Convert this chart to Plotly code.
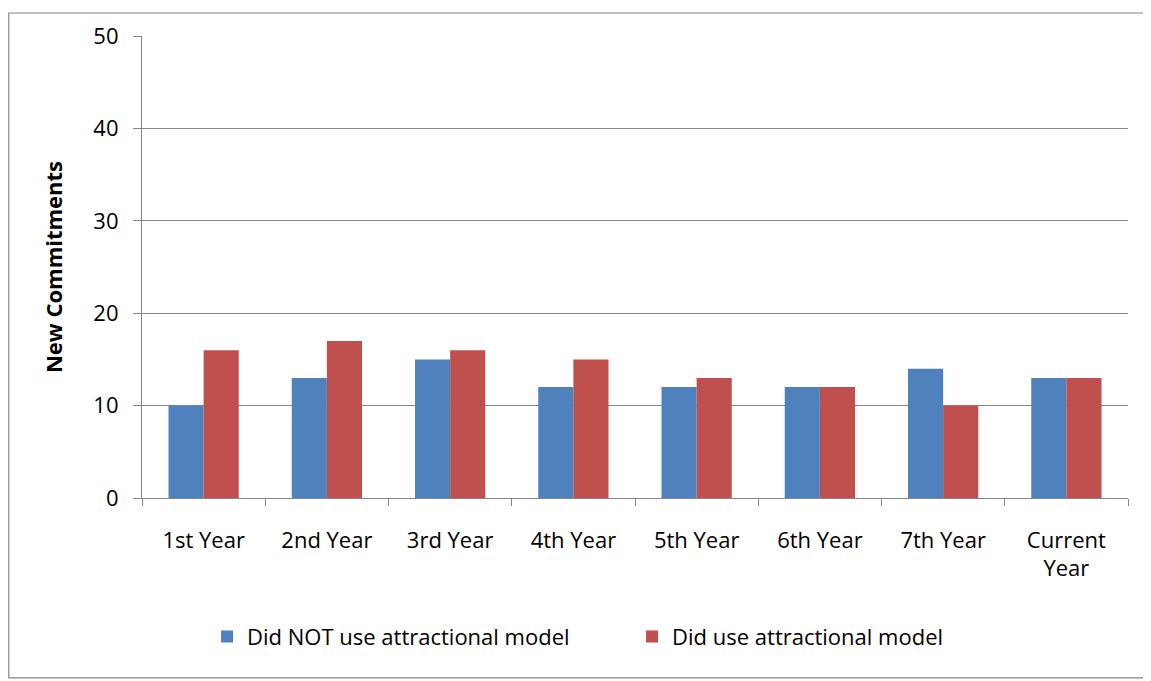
import plotly.graph_objects as go

# categories and values
years = ['1st Year', '2nd Year', '3rd Year', '4th Year', '5th Year', '6th Year', '7th Year', 'Current<br>Year']
not_attractional = [10, 13, 15, 12, 12, 12, 14, 13]
attractional = [16, 17, 16, 15, 13, 12, 10, 13]

fig = go.Figure()

fig.add_trace(go.Bar(
    x=years, y=not_attractional,
    name='Did NOT use attractional model',
    marker=dict(color='#4F81BD', line=dict(width=0)),
))
fig.add_trace(go.Bar(
    x=years, y=attractional,
    name='Did use attractional model',
    marker=dict(color='#C0504D', line=dict(width=0)),
))

# the page body adds an 8px offset, so the figure is sized/shifted to compensate
off = 8
W, H = 1151 - off, 681 - off
ml, mr, mt, mb = 142 - off, 1151 - 1128, 32 - off, 681 - 498
pw, ph = W - ml - mr, H - mt - mb

# outer chart border (excel style)
fig.add_shape(
    type='rect', xref='paper', yref='paper',
    x0=(0.8 - ml) / pw, x1=(1148.5 - off - ml) / pw,
    y0=(H - mb - (679.5 - off)) / ph, y1=(H - mb - 0.8) / ph,
    line=dict(color='#868686', width=1.2),
    fillcolor='rgba(0,0,0,0)', layer='below',
)

gray = '#868686'
fig.update_layout(
    width=W, height=H,
    margin=dict(l=ml, r=mr, t=mt, b=mb),
    paper_bgcolor='white',
    plot_bgcolor='white',
    font=dict(family='Open Sans', color='black', size=22),
    barmode='group',
    bargap=0.43,
    bargroupgap=0,
    showlegend=True,
    legend=dict(
        orientation='h',
        x=0.066, xanchor='left',
        y=-(638 - 498) / ph, yanchor='middle',
        font=dict(size=22),
        entrywidth=380, entrywidthmode='pixels',
    ),
    xaxis=dict(
        showline=True, linecolor=gray, linewidth=1.2,
        ticks='outside', ticklen=7, tickcolor=gray, tickwidth=1.2,
        tickson='boundaries',
        showgrid=False,
        tickfont=dict(size=22),
        ticklabelstandoff=22,
    ),
    yaxis=dict(
        range=[0, 50], dtick=10,
        showline=True, linecolor=gray, linewidth=1.2,
        ticks='outside', ticklen=8, tickcolor=gray, tickwidth=1.2,
        showgrid=True, gridcolor=gray, gridwidth=1.2,
        zeroline=False,
        tickfont=dict(size=22),
        ticklabelstandoff=10,
        title=dict(text='<b>New Commitments</b>', font=dict(size=22), standoff=24),
    ),
)

fig.write_html("out.html")
